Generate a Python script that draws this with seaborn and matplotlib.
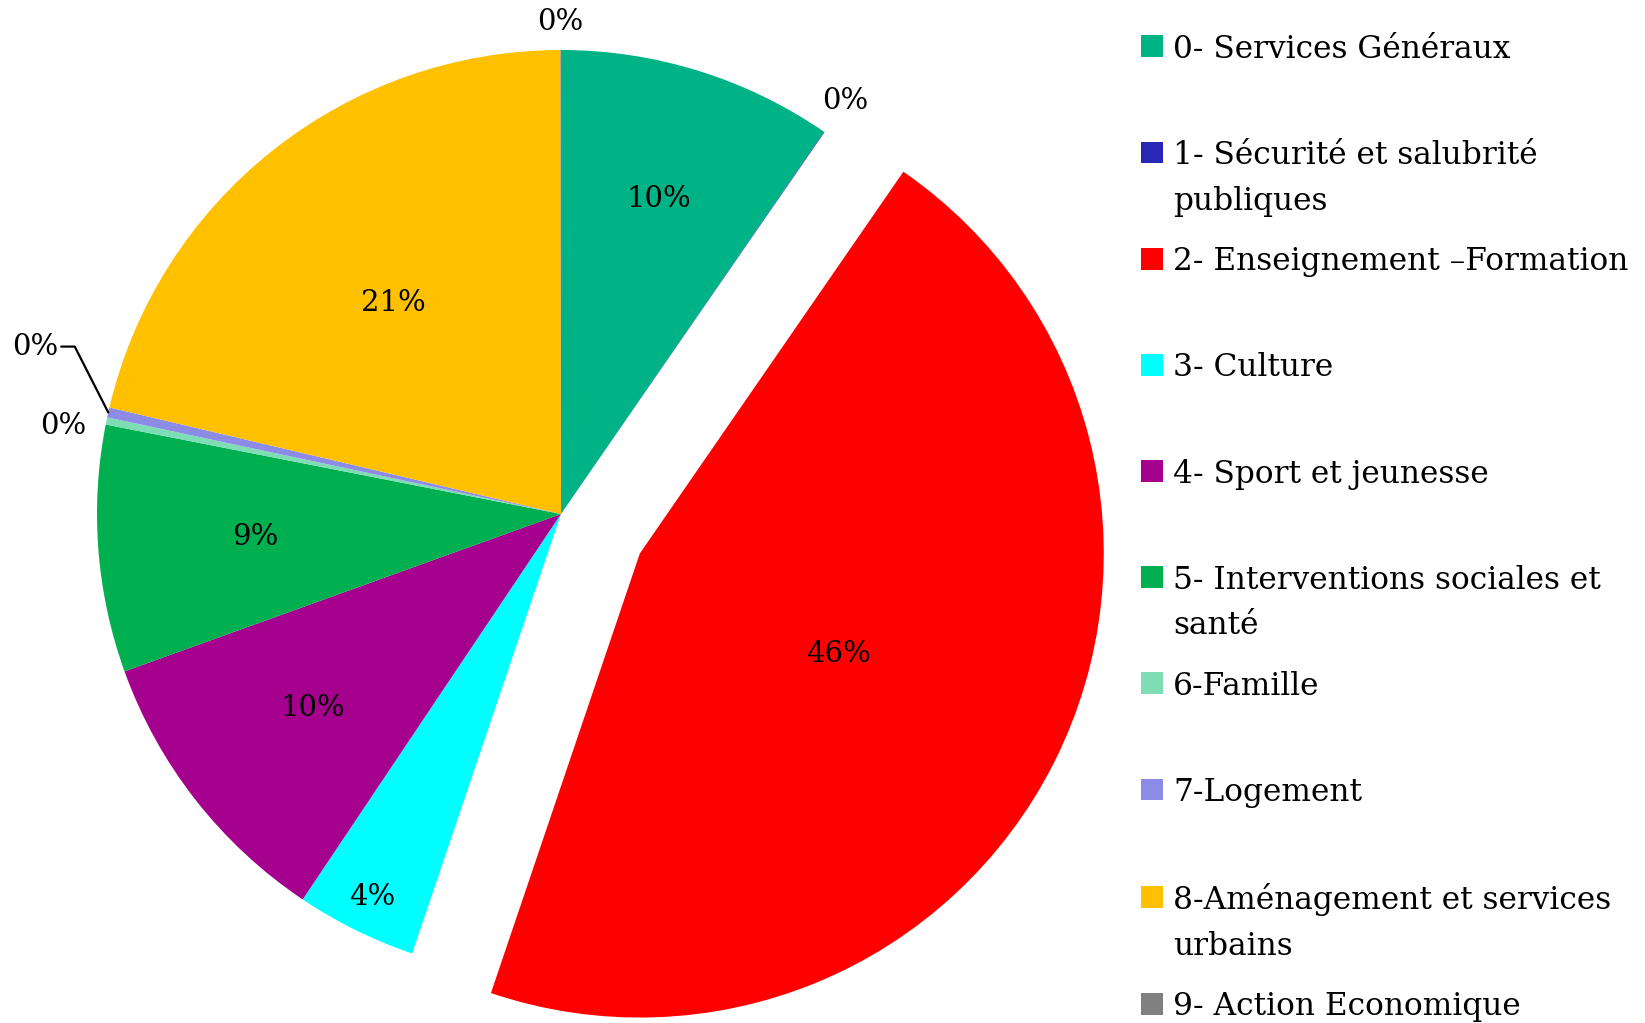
import numpy as np
import matplotlib
matplotlib.use("Agg")
import matplotlib.pyplot as plt
import seaborn as sns
from matplotlib.patches import Wedge, Rectangle
from matplotlib.legend_handler import HandlerPatch

# ---------------- data ----------------
categories = [
    "0- Services Généraux",
    "1- Sécurité et salubrité\npubliques",
    "2- Enseignement –Formation",
    "3- Culture",
    "4- Sport et jeunesse",
    "5- Interventions sociales et\nsanté",
    "6-Famille",
    "7-Logement",
    "8-Aménagement et services\nurbains",
    "9- Action Economique",
]
shares = [9.6, 0.02, 45.6, 4.2, 10.1, 8.6, 0.25, 0.35, 21.3, 0.02]
exploded = [0, 0, 1, 0, 0, 0, 0, 0, 0, 0]
colors = ["#00B386", "#2828B4", "#FF0000", "#00FFFF", "#A5008E",
          "#00B050", "#7FDDB5", "#8C8CE6", "#FFC000", "#808080"]

# label placement (radius factor, angular offset in degrees)
lab_r = [0.71, 1.08, 0.48, 0.92, 0.68, 0.66, 1.09, 1.19, 0.58, 1.06]
lab_da = [0, 0, 0, 0, 0, 0, 1.6, -5, 0, 0]

sns.set_theme(style="white")
plt.rcParams["font.family"] = ["DejaVu Serif", "DejaVu Sans"]
plt.rcParams["text.color"] = "black"

W, H = 1645, 1023
fig = plt.figure(figsize=(W / 100, H / 100), dpi=100)
fig.patch.set_facecolor("white")
ax = fig.add_axes([0, 0, 1, 1])

pal = sns.color_palette(colors)
wedges, texts, autotexts = ax.pie(
    shares, colors=pal, startangle=90, counterclock=False,
    explode=[0.19 * e for e in exploded], autopct="%.0f%%",
    wedgeprops=dict(linewidth=0),
    textprops=dict(fontsize=21, color="black"),
)

R = 464.0
cx0, cy0 = 561.0, H - 514.0
ax.set_xlim(-cx0 / R, (W - cx0) / R)
ax.set_ylim(-cy0 / R, (H - cy0) / R)
ax.set_aspect("equal")
ax.axis("off")

for i, (w, t) in enumerate(zip(wedges, autotexts)):
    mid = np.deg2rad((w.theta1 + w.theta2) / 2)
    ang = np.deg2rad((w.theta1 + w.theta2) / 2 + lab_da[i])
    cx, cy = w.center
    pos = (cx + lab_r[i] * np.cos(ang), cy + lab_r[i] * np.sin(ang))
    if i == 7:
        t.set_visible(False)
        edge = (cx + np.cos(mid), cy + np.sin(mid))
        ax.annotate(t.get_text(), xy=edge, xytext=pos, ha="center", va="center",
                    fontsize=21, color="black",
                    arrowprops=dict(arrowstyle="-", color="black", lw=1.6,
                                    shrinkA=0, shrinkB=0, relpos=(1, 0.5),
                                    connectionstyle="angle,angleA=0,angleB=117,rad=0"))
    else:
        t.set_position(pos)
        t.set_ha("center")
        t.set_va("center")


class TopHandler(HandlerPatch):
    def __init__(self, shift, **kw):
        super().__init__(**kw)
        self.shift = shift

    def create_artists(self, legend, orig_handle, xdescent, ydescent,
                       width, height, fontsize, trans):
        p = Rectangle((-xdescent, -ydescent + self.shift * fontsize), width, height)
        self.update_prop(p, orig_handle, legend)
        p.set_transform(trans)
        return [p]


leg_labels = [c if "\n" in c else c + "\n " for c in categories]
leg = ax.legend(wedges, leg_labels, loc="upper left",
                bbox_to_anchor=(1141 / W, 1 - 34 / H), bbox_transform=fig.transFigure,
                frameon=False, fontsize=22.5, handlelength=0.7, handleheight=0.7,
                handletextpad=0.33, labelspacing=0.952, borderpad=0, borderaxespad=0,
                handler_map={Wedge: TopHandler(0.86)})
for t in leg.get_texts():
    t.set_linespacing(1.6)
    t.set_color("black")

fig.savefig("out.png", dpi=100, facecolor="white")
